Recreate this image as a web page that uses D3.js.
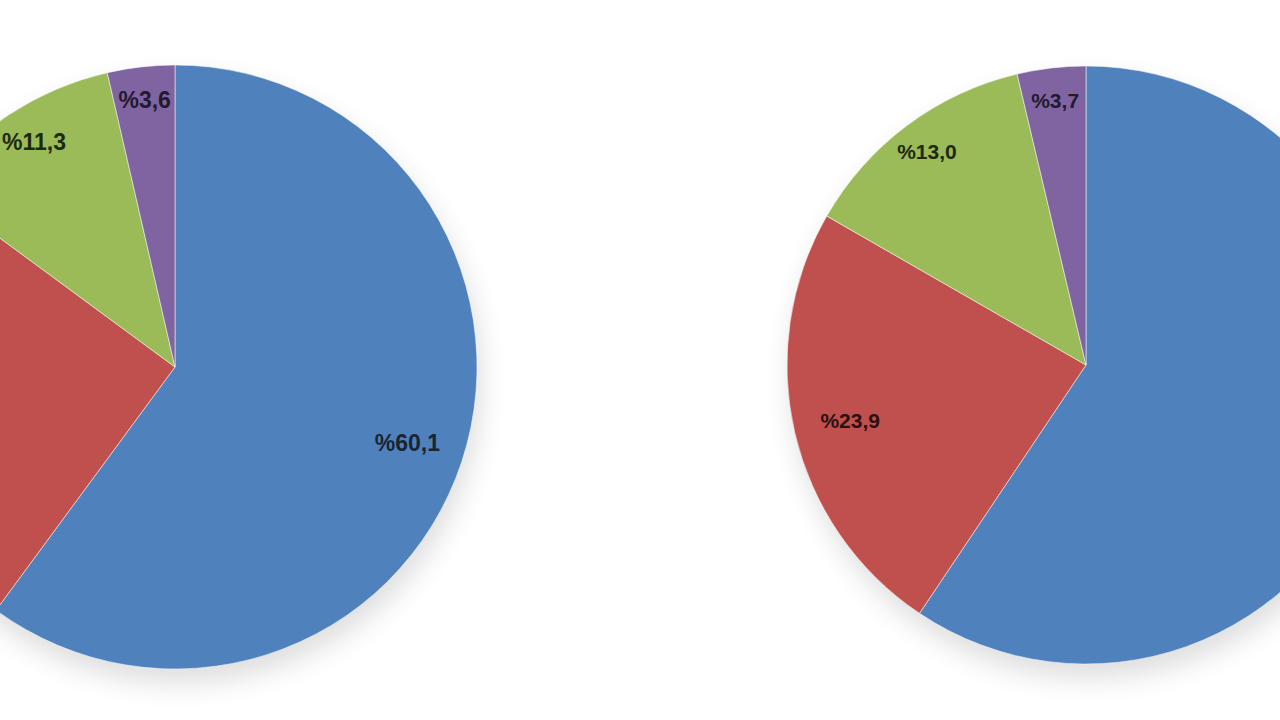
<!DOCTYPE html>
<html><head><meta charset="utf-8">
<script src="https://cdn.jsdelivr.net/npm/d3@7"></script>
<style>html,body{margin:0;padding:0;background:#fff;overflow:hidden}</style>
</head><body>
<svg id="c" width="1280" height="720"></svg>
<script>
const categories = ["A", "B", "C", "D"];
const leftValues = [60.1, 25.0, 11.3, 3.6];
const rightValues = [59.4, 23.9, 13.0, 3.7];
const colors = ["#4F81BD", "#C0504D", "#9BBB59", "#8064A2"];
const labelColors = ["#1b2433", "#2a1111", "#1e2a10", "#221a2e"];

const W = 1280;
const svg = d3.select("#c");
const defs = svg.append("defs");
const f = defs.append("filter").attr("id","sh").attr("x","-50%").attr("y","-50%").attr("width","200%").attr("height","200%");
f.append("feGaussianBlur").attr("stdDeviation", 14);

const fmt = v => "%" + d3.format(".1f")(v).replace(".", ",");

function drawPie(values, cx, cy, r, fs) {
  const g = svg.append("g").attr("transform", `translate(${cx},${cy})`);
  g.append("ellipse").attr("cx", 4).attr("cy", 14).attr("rx", r).attr("ry", r)
    .attr("fill", "#000").attr("opacity", 0.13).attr("filter", "url(#sh)");
  const pie = d3.pie().sort(null).value(d => d)(values);
  const arc = d3.arc().innerRadius(0).outerRadius(r);
  g.selectAll("path.s").data(pie).join("path").attr("class","s")
    .attr("d", arc).attr("fill", (d,i) => colors[i])
    .attr("stroke", "rgba(255,255,255,0.5)").attr("stroke-width", 1);
  const pos = d => {
    const k = (d.data < 15) ? 0.89 : 0.81;
    const la = d3.arc().innerRadius(r*k).outerRadius(r*k);
    return la.centroid(d);
  };
  // the reference is cropped: labels whose centre lies off the page are not shown
  const visible = pie.filter(d => {
    const [x] = pos(d);
    return cx + x > 0 && cx + x < W;
  });
  const t = g.selectAll("text").data(visible).join("text")
    .attr("text-anchor","middle").attr("dominant-baseline","central")
    .attr("font-family","'Liberation Sans', Arial, sans-serif")
    .attr("font-weight","bold").attr("font-size", fs)
    .attr("fill", d => labelColors[d.index])
    .text(d => fmt(d.data));
  t.attr("transform", function(d) {
    let [x, y] = pos(d);
    const w = this.getComputedTextLength();
    // keep labels inside the page
    const minX = -cx + w/2 + 2, maxX = W - cx - w/2 - 2;
    x = Math.max(minX, Math.min(maxX, x));
    return `translate(${x},${y})`;
  });
}

drawPie(leftValues, 175, 367, 302, 23);
drawPie(rightValues, 1086, 365, 299, 21);
</script>
</body></html>
